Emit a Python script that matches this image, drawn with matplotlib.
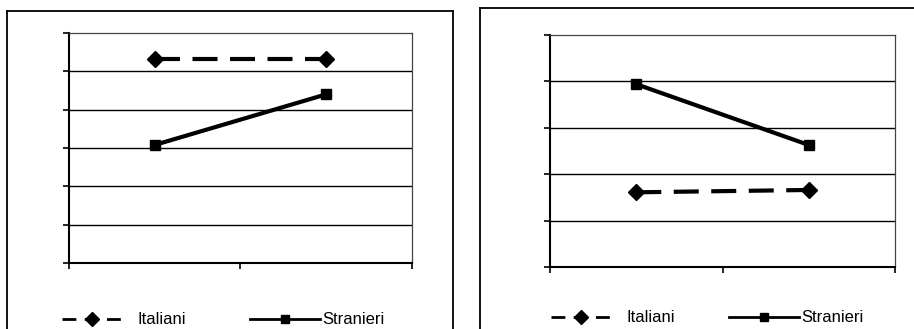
import matplotlib
matplotlib.use("Agg")
import matplotlib.pyplot as plt
from matplotlib.lines import Line2D

plt.rcParams['font.family'] = ['Liberation Sans', 'DejaVu Sans']

# Data
series_names = ["Italiani", "Stranieri"]
x_pos = [0.5, 1.5]
left_italiani = [5.32, 5.32]
left_stranieri = [3.08, 4.40]
right_italiani = [1.61, 1.66]
right_stranieri = [3.94, 2.63]

W, H = 914, 329
fig = plt.figure(figsize=(W / 100, H / 100), dpi=100)

def px(x, y):
    return x / W, 1 - y / H

# outer frames
def fline(x1, y1, x2, y2, lw=1.3):
    a = px(x1, y1); b = px(x2, y2)
    fig.add_artist(Line2D([a[0], b[0]], [a[1], b[1]], color='black', lw=lw,
                          transform=fig.transFigure))

fline(7, 11, 453, 11); fline(7, 11, 7, 329); fline(453, 11, 453, 329)
fline(480, 8, 914, 8); fline(480, 8, 480, 329)

dash = (0, (6, 3))

def make_panel(rect, ymax, ita, stra, leg_y, leg_x1, leg_x2):
    ax = fig.add_axes(rect)
    ax.set_xlim(0, 2)
    ax.set_ylim(0, ymax)
    ax.set_xticks([0, 1, 2])
    ax.set_yticks(range(ymax + 1))
    ax.set_xticklabels([]); ax.set_yticklabels([])
    ax.tick_params(direction='out', length=4.5, width=1.2, color='black')
    for y in range(1, ymax):
        ax.axhline(y, color='black', lw=1.0, zorder=1)
    for s in ['left', 'bottom']:
        ax.spines[s].set_linewidth(1.5)
    for s in ['top', 'right']:
        ax.spines[s].set_linewidth(0.9)
        ax.spines[s].set_color('#444444')
    l1, = ax.plot(x_pos, ita, color='black', lw=3, linestyle=dash, marker='D',
                  markersize=8, zorder=3, label=series_names[0])
    l2, = ax.plot(x_pos, stra, color='black', lw=3, linestyle='-', marker='s',
                  markersize=7, zorder=3, label=series_names[1])
    h1 = Line2D([], [], color='black', lw=2, linestyle=(0, (5, 3)), marker='D', markersize=7)
    h2 = Line2D([], [], color='black', lw=2, linestyle='-', marker='s', markersize=6)
    leg1 = ax.legend(handles=[h1], labels=[series_names[0]], loc='center left',
                     bbox_to_anchor=px(leg_x1, leg_y), bbox_transform=fig.transFigure,
                     frameon=False, borderpad=0, borderaxespad=0, handlelength=3.65,
                     handletextpad=0.9, numpoints=1, fontsize=12)
    ax.add_artist(leg1)
    ax.legend(handles=[h2], labels=[series_names[1]], loc='center left',
              bbox_to_anchor=px(leg_x2, leg_y), bbox_transform=fig.transFigure,
              frameon=False, borderpad=0, borderaxespad=0, handlelength=4.2,
              handletextpad=0.15, numpoints=1, fontsize=12)
    return ax

make_panel([69 / W, 1 - 263 / H, 343 / W, 230 / H], 6, left_italiani, left_stranieri,
           320, 62, 250)
make_panel([550 / W, 1 - 267 / H, 345 / W, 232 / H], 5, right_italiani, right_stranieri,
           318, 551, 729)

fig.savefig("out.png", dpi=100)
